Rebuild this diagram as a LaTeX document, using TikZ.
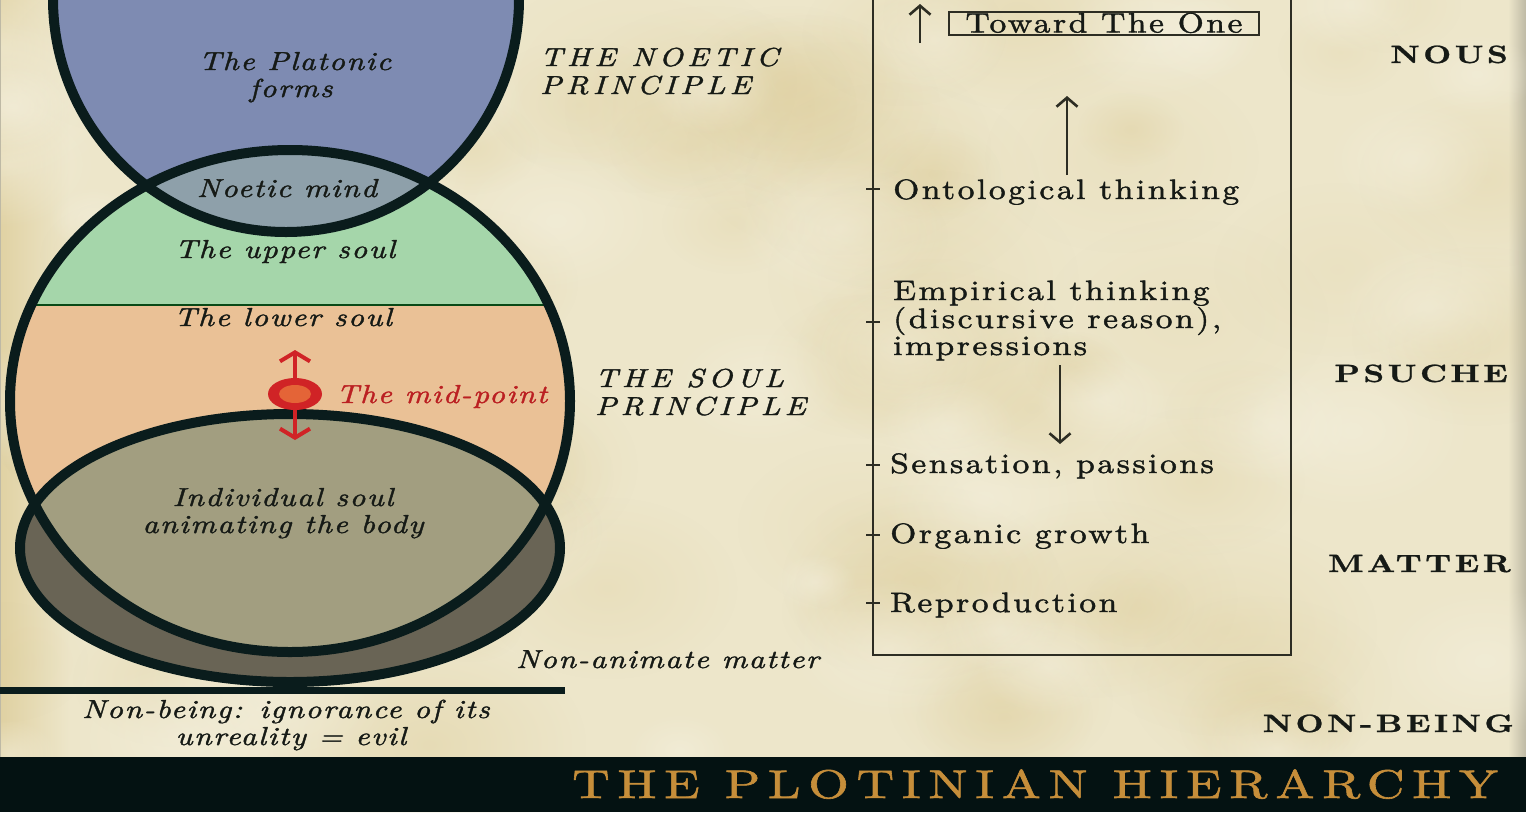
\documentclass[tikz,border=0pt]{standalone}
\usepackage{fontspec}
\setmainfont{lmroman10-regular.otf}[ItalicFont=lmroman10-italic.otf,BoldFont=lmroman10-bold.otf,BoldItalicFont=lmroman10-bolditalic.otf]
\newfontfamily\circf[FakeStretch=1.2,LetterSpace=6,FakeBold=1.5]{lmroman10-italic.otf}
\newfontfamily\princf[FakeStretch=1.2,LetterSpace=17,FakeBold=1.5]{lmroman10-italic.otf}
\newfontfamily\itemf[FakeStretch=1.2,LetterSpace=9,FakeBold=1.5]{lmroman10-regular.otf}
\newfontfamily\realmf[FakeStretch=1.3,LetterSpace=14,FakeBold=1]{lmroman10-bold.otf}
\newfontfamily\titlef[FakeStretch=1.3,LetterSpace=19.5,FakeBold=1.5]{lmroman10-regular.otf}
\usetikzlibrary{arrows.meta,shapes.geometric,fadings}
\tikzfading[name=softspot, inner color=transparent!0, outer color=transparent!100]
\definecolor{bg}{RGB}{237,230,202}
\definecolor{bgdark}{RGB}{220,203,150}
\definecolor{bglight}{RGB}{245,241,224}
\definecolor{edgegrey}{RGB}{190,185,165}
\definecolor{outl}{RGB}{10,28,28}
\definecolor{formblue}{RGB}{126,139,178}
\definecolor{lensblue}{RGB}{142,160,170}
\definecolor{soulgreen}{RGB}{165,214,170}
\definecolor{soulpeach}{RGB}{234,193,150}
\definecolor{bodyolive}{RGB}{162,158,128}
\definecolor{matterdark}{RGB}{105,100,85}
\definecolor{midred}{RGB}{208,35,38}
\definecolor{midorange}{RGB}{228,100,55}
\definecolor{txt}{RGB}{22,26,22}
\definecolor{boxline}{RGB}{45,45,35}
\definecolor{gold}{RGB}{198,142,58}
\definecolor{band}{RGB}{4,18,18}
\tikzset{
  outline/.style={draw=outl, line width=10pt},
  circtxt/.style={font=\circf\fontsize{26}{30}\selectfont, text=txt, inner sep=0pt, anchor=base},
  princtxt/.style={font=\princf\fontsize{26}{30}\selectfont, text=txt, inner sep=0pt, anchor=base west},
  itemtxt/.style={font=\itemf\fontsize{28}{32}\selectfont, text=txt, inner sep=0pt, anchor=base west},
  realmtxt/.style={font=\realmf\fontsize{25}{29}\selectfont, text=txt, inner sep=0pt, anchor=base east},
  tick/.style={draw=boxline, line width=2pt},
  darrow/.style={draw=boxline, line width=2.6pt, -{Straight Barb[length=9pt,width=21pt]}},
  redarrow/.style={draw=midred, line width=4pt, {Straight Barb[length=9pt,width=30pt]}-{Straight Barb[length=9pt,width=30pt]}},
  spot/.style={path fading=softspot},
}
\begin{document}
\begin{tikzpicture}[x=1pt,y=-1pt]
\clip (0,0) rectangle (1526,812);
% parchment
\fill[bg] (0,0) rectangle (1526,812);
\shade[left color=bgdark!75!bg, right color=bg] (0,0) rectangle (70,757);
\shade[left color=bg, right color=edgegrey] (1508,0) rectangle (1526,757);
\pgfmathsetseed{11}
\foreach \i in {1,...,70} {
  \pgfmathsetmacro{\sx}{rnd*1526}
  \pgfmathsetmacro{\sy}{rnd*757}
  \pgfmathsetmacro{\sr}{50+rnd*110}
  \pgfmathsetmacro{\so}{0.15+rnd*0.25}
  \fill[bgdark, opacity=\so, spot] (\sx,\sy) ellipse [x radius=\sr pt, y radius=0.7*\sr pt];
}
\foreach \i in {1,...,45} {
  \pgfmathsetmacro{\sx}{rnd*1526}
  \pgfmathsetmacro{\sy}{rnd*757}
  \pgfmathsetmacro{\sr}{40+rnd*90}
  \fill[bglight, opacity=0.5, spot] (\sx,\sy) ellipse [x radius=\sr pt, y radius=0.7*\sr pt];
}
\draw[edgegrey, line width=2pt] (0,0) -- (0,757);

% circles geometry
\coordinate (topc) at (286,-1);
\coordinate (bigc) at (290,401);
\coordinate (botc) at (290,548);

\fill[soulpeach] (bigc) ellipse [x radius=280pt, y radius=251pt];
\fill[formblue] (topc) circle [radius=233pt];
\begin{scope}
  \clip (bigc) ellipse [x radius=280pt, y radius=251pt];
  \fill[soulgreen] (0,0) rectangle (600,305);
  \fill[lensblue] (topc) circle [radius=233pt];
\end{scope}
\fill[matterdark] (botc) ellipse [x radius=270pt, y radius=134pt];
\begin{scope}
  \clip (bigc) ellipse [x radius=280pt, y radius=251pt];
  \fill[bodyolive] (botc) ellipse [x radius=270pt, y radius=134pt];
  \draw[draw=outl!80!green, line width=2pt] (0,305) -- (600,305);
\end{scope}
\draw[outline] (topc) circle [radius=233pt];
\draw[outline] (bigc) ellipse [x radius=280pt, y radius=251pt];
\draw[outline] (botc) ellipse [x radius=270pt, y radius=134pt];
\coordinate (groundL) at (0,690);
\coordinate (groundR) at (565,690);
\draw[outl, line width=7pt] (groundL) -- (groundR);

% mid-point marker
\coordinate (mpup) at (295,350);
\coordinate (mpdn) at (295,440);
\draw[redarrow] (mpdn) -- (mpup);
\node[ellipse, fill=midred, minimum width=54pt, minimum height=32pt, inner sep=0pt] (mp) at (295,394) {};
\node[ellipse, fill=midorange, minimum width=32pt, minimum height=18pt, inner sep=0pt] (mpin) at (mp.center) {};

% circle texts
\node[circtxt] (plat) at (295,70) {The Platonic};
\node[circtxt] (forms) at (291,97) {forms};
\node[circtxt] (noetic) at (287,197) {Noetic mind};
\node[circtxt] (upper) at (285,258) {The upper soul};
\node[circtxt] (lower) at (283,326) {The lower soul};
\node[circtxt, text=midred!90!black, anchor=base west] (mptxt) at (336,403) {The mid-point};
\node[circtxt] (indiv) at (283,506) {Individual soul};
\node[circtxt] (anim) at (283,533) {animating the body};
\node[circtxt, anchor=base west] (nonanim) at (516,668) {Non-animate matter};
\node[circtxt] (nonbeing) at (286,718) {Non-being: ignorance of its};
\node[circtxt] (unreal) at (291,745) {unreality = evil};

% principles
\node[princtxt] (np1) at (540,66) {THE NOETIC};
\node[princtxt] (np2) at (540,94) {PRINCIPLE};
\node[princtxt] (sp1) at (595,387) {THE SOUL};
\node[princtxt] (sp2) at (595,415) {PRINCIPLE};

% right box
\draw[boxline, line width=2.4pt] (873,-5) -- (873,655) -- (1291,655) -- (1291,-5);
\draw[tick] (866,189) -- (880,189);
\draw[tick] (866,322) -- (880,322);
\draw[tick] (866,465) -- (880,465);
\draw[tick] (866,535) -- (880,535);
\draw[tick] (866,603) -- (880,603);

\node[itemtxt] (onto) at (893,199) {Ontological thinking};
\node[itemtxt] (emp1) at (893,300) {Empirical thinking};
\node[itemtxt] (emp2) at (893,328) {(discursive reason),};
\node[itemtxt] (emp3) at (893,355) {impressions};
\node[itemtxt] (sens) at (890,473) {Sensation, passions};
\node[itemtxt] (org) at (890,543) {Organic growth};
\node[itemtxt] (repro) at (890,612) {Reproduction};

\node[draw=boxline, line width=1.8pt, minimum width=310pt, text height=19pt, text depth=1pt, inner xsep=0pt, inner ysep=1.5pt, font=\itemf\fontsize{28}{30}\selectfont, text=txt] (toward) at (1104,23.5) {Toward The One};

\coordinate (a0s) at (920,43);
\coordinate (a0e) at (920,4);
\draw[darrow] (a0s) -- (a0e);
\coordinate (a1s) at (1067,175);
\coordinate (a1e) at (1067,96);
\draw[darrow] (a1s) -- (a1e);
\coordinate (a2s) at (1060,365);
\coordinate (a2e) at (1060,444);
\draw[darrow] (a2s) -- (a2e);

% realms
\node[realmtxt] (nous) at (1508,63) {NOUS};
\node[realmtxt] (psuche) at (1508,382) {PSUCHE};
\node[realmtxt] (matter) at (1511,572) {MATTER};
\node[realmtxt] (nonb) at (1514,732) {NON-BEING};

% title band
\fill[band] (0,757) rectangle (1526,812);
\node[font=\titlef\fontsize{40}{44}\selectfont, text=gold, inner sep=0pt, anchor=base west] (title) at (572,798) {THE PLOTINIAN HIERARCHY};
\end{tikzpicture}
\end{document}
